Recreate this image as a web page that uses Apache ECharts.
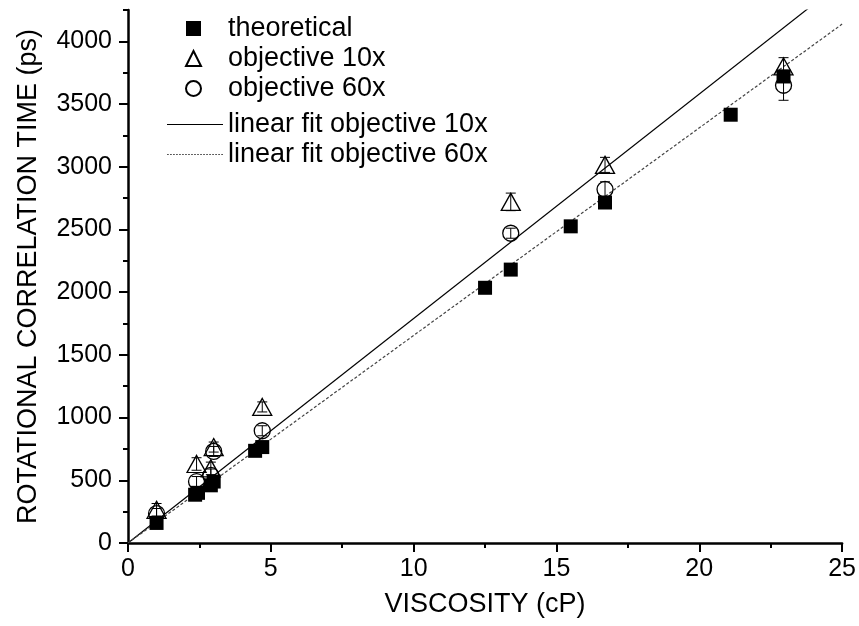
<!DOCTYPE html>
<html>
<head>
<meta charset="utf-8">
<script src="https://cdn.jsdelivr.net/npm/echarts@6/dist/echarts.min.js"></script>
<style>
  html, body { margin: 0; padding: 0; background: #fff; }
  #chart { width: 859px; height: 626px; }
</style>
</head>
<body>
<div id="chart"></div>
<script>
// theoretical values (square markers)
const theoViscosity = [1.0, 2.35, 2.45, 2.9, 3.0, 4.45, 4.7, 12.5, 13.4, 15.5, 16.7, 21.1, 22.95];
const theoTau = [160, 385, 400, 460, 490, 735, 765, 2035, 2180, 2525, 2715, 3415, 3720];

// measured values, both objectives share the same viscosities
const obsViscosity = [1.0, 2.4, 2.9, 3.0, 4.7, 13.4, 16.7, 22.95];
const tau10x = [265, 630, 595, 765, 1085, 2720, 3015, 3800];
const err10x = [50, 50, 50, 40, 40, 70, 60, 70];
const tau60x = [235, 490, 540, 730, 895, 2470, 2820, 3650];
const err60x = [40, 40, 50, 40, 40, 40, 60, 120];

// linear fits through the origin (ps per cP)
const fitSlope10x = 179;
const fitSlope60x = 165.5;
const fitRange = [0, 25];

// labelled y ticks
const yTicks = [0, 500, 1000, 1500, 2000, 2500, 3000, 3500, 4000];

const FONT = 'Liberation Sans';

const zip = (xs, ys) => xs.map((x, i) => [x, ys[i]]);
const withErr = (xs, ys, es) => xs.map((x, i) => [x, ys[i], es[i]]);

// legend icons for the fit lines (thin bar / row of dashes)
const LEGEND_LINE_W = 56;
const solidIcon = `path://M0,0H${LEGEND_LINE_W}V1.2H0Z`;
let dashPath = '';
for (let x = 0; x < LEGEND_LINE_W; x += 3) dashPath += `M${x},0h1.8v1.2h-1.8Z`;
const dottedIcon = 'path://' + dashPath;

// vertical error bar with small caps
function errorBarItem(params, api) {
    const x = api.value(0), y = api.value(1), e = api.value(2);
    const top = api.coord([x, y + e]);
    const bot = api.coord([x, y - e]);
    const cap = 5;
    const style = { stroke: '#000', lineWidth: 1 };
    return {
        type: 'group',
        children: [
            { type: 'line', shape: { x1: top[0], y1: top[1], x2: bot[0], y2: bot[1] }, style },
            { type: 'line', shape: { x1: top[0] - cap, y1: top[1], x2: top[0] + cap, y2: top[1] }, style },
            { type: 'line', shape: { x1: bot[0] - cap, y1: bot[1], x2: bot[0] + cap, y2: bot[1] }, style }
        ]
    };
}

const chart = echarts.init(document.getElementById('chart'));

const tickText = { color: '#000', fontFamily: FONT, fontSize: 25 };
const titleText = { color: '#000', fontFamily: FONT, fontSize: 27 };
const legendText = { color: '#000', fontFamily: FONT, fontSize: 27 };

chart.setOption({
    animation: false,
    backgroundColor: '#fff',
    grid: { left: 128, right: 16, top: 10, bottom: 83, containLabel: false },
    legend: [{
        // marker entries
        orient: 'vertical',
        left: 180,
        top: 10,
        itemWidth: 15,
        itemHeight: 15,
        itemGap: 3,
        textStyle: { ...legendText, padding: [0, 0, 0, 22] },
        data: ['theoretical', 'objective 10x', 'objective 60x']
    }, {
        // fit line entries
        orient: 'vertical',
        left: 162,
        top: 106,
        itemWidth: LEGEND_LINE_W,
        itemHeight: 15,
        itemGap: 3,
        textStyle: legendText,
        data: [
            { name: 'linear fit objective 10x', icon: solidIcon },
            { name: 'linear fit objective 60x', icon: dottedIcon }
        ]
    }],
    xAxis: {
        type: 'value',
        min: 0, max: 25, interval: 5,
        name: 'VISCOSITY (cP)',
        nameLocation: 'middle',
        nameGap: 48,
        nameTextStyle: titleText,
        axisLine: { onZero: false, lineStyle: { color: '#000', width: 2.5 } },
        axisTick: { inside: false, length: 9, lineStyle: { color: '#000', width: 2 } },
        minorTick: { show: true, splitNumber: 2, length: 5, lineStyle: { color: '#000', width: 2 } },
        axisLabel: { ...tickText, margin: 14 },
        splitLine: { show: false }
    },
    yAxis: [{
        type: 'value',
        min: 0, max: 4250, interval: 250,
        name: 'ROTATIONAL CORRELATION TIME (ps)',
        nameLocation: 'middle',
        nameGap: 86,
        nameTextStyle: titleText,
        axisLine: { onZero: false, lineStyle: { color: '#000', width: 2.5 } },
        axisTick: { inside: false, length: 5, lineStyle: { color: '#000', width: 2 } },
        axisLabel: { ...tickText, margin: 16, customValues: yTicks, formatter: v => String(v) },
        splitLine: { show: false }
    }, {
        // long ticks at the labelled values
        type: 'value',
        min: 0, max: 4250,
        position: 'left',
        axisLine: { show: false },
        axisTick: { show: true, length: 9, customValues: yTicks, lineStyle: { color: '#000', width: 2 } },
        axisLabel: { show: false },
        splitLine: { show: false }
    }],
    series: [
        {
            name: 'linear fit objective 10x',
            type: 'line',
            data: fitRange.map(x => [x, x * fitSlope10x]),
            showSymbol: false, symbol: 'none',
            lineStyle: { color: '#000', width: 1.2, type: 'solid' },
            itemStyle: { color: '#000' },
            clip: true, z: 1
        },
        {
            name: 'linear fit objective 60x',
            type: 'line',
            data: fitRange.map(x => [x, x * fitSlope60x]),
            showSymbol: false, symbol: 'none',
            lineStyle: { color: '#444', width: 1.2, type: [3, 2] },
            itemStyle: { color: '#555' },
            clip: true, z: 1
        },
        {
            name: 'theoretical',
            type: 'scatter',
            data: zip(theoViscosity, theoTau),
            symbol: 'rect', symbolSize: 14,
            itemStyle: { color: '#000', opacity: 1 },
            z: 2
        },
        {
            type: 'custom',
            renderItem: errorBarItem,
            data: withErr(obsViscosity, tau10x, err10x),
            silent: true, z: 3
        },
        {
            type: 'custom',
            renderItem: errorBarItem,
            data: withErr(obsViscosity, tau60x, err60x),
            silent: true, z: 3
        },
        {
            name: 'objective 10x',
            type: 'scatter',
            data: zip(obsViscosity, tau10x),
            symbol: 'triangle', symbolSize: [19, 17],
            itemStyle: { color: 'rgba(255,255,255,0)', borderColor: '#000', borderWidth: 1.3, opacity: 1 },
            z: 4
        },
        {
            name: 'objective 60x',
            type: 'scatter',
            data: zip(obsViscosity, tau60x),
            symbol: 'circle', symbolSize: 16,
            itemStyle: { color: 'rgba(255,255,255,0)', borderColor: '#000', borderWidth: 1.3, opacity: 1 },
            z: 4
        }
    ]
});
</script>
</body>
</html>
